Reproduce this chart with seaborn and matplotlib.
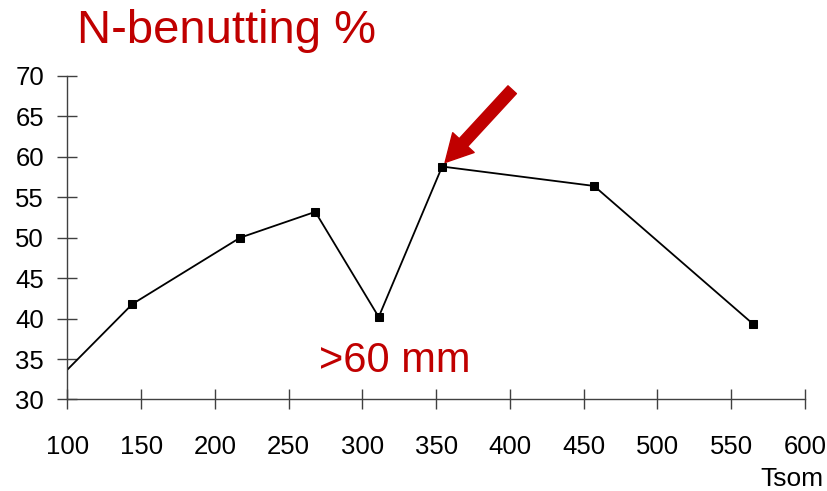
import matplotlib
matplotlib.use("Agg")
import matplotlib.pyplot as plt
import seaborn as sns
import pandas as pd

# Total precipitation (Tsom) and nitrogen utilisation (%)
tsom = [100, 144, 217, 268, 311, 354, 457, 565]
n_benutting = [33.7, 41.8, 50.0, 53.2, 40.2, 58.8, 56.4, 39.3]

x_ticks = [100, 150, 200, 250, 300, 350, 400, 450, 500, 550, 600]
y_ticks = [30, 35, 40, 45, 50, 55, 60, 65, 70]

title_text = "N-benutting %"
note_text = ">60 mm"
x_label = "Tsom"

dark_red = "#C00000"
axis_grey = "#404040"

sns.set_theme(style="white")
plt.rcParams["font.family"] = ["Liberation Sans", "DejaVu Sans"]

df = pd.DataFrame({"Tsom": tsom, "N": n_benutting})

fig = plt.figure(figsize=(8.28, 4.91), dpi=100)
ax = fig.add_axes([0.0815, 0.1864, 0.8907, 0.6589])

sns.lineplot(data=df, x="Tsom", y="N", ax=ax, color="black", linewidth=1.3,
             marker="s", markersize=6, markeredgecolor="black",
             markerfacecolor="black", markevery=list(range(1, len(tsom))))

ax.set_xlim(100, 600)
ax.set_ylim(30, 70)
ax.set_xticks(x_ticks)
ax.set_yticks(y_ticks)
ax.set_xlabel("")
ax.set_ylabel("")

for side in ("top", "right"):
    ax.spines[side].set_visible(False)
for side in ("left", "bottom"):
    ax.spines[side].set_color(axis_grey)
    ax.spines[side].set_linewidth(1.0)

ax.tick_params(axis="both", which="major", bottom=True, left=True,
               direction="inout", length=13.7, width=1.0,
               color=axis_grey, labelcolor="black", labelsize=18.5)
ax.tick_params(axis="x", pad=19)
ax.tick_params(axis="y", pad=10)

# Title and annotations
fig.text(0.093, 0.912, title_text, color=dark_red, fontsize=34,
         ha="left", va="baseline")
ax.text(270.5, 34.7, note_text, color=dark_red, fontsize=30,
        ha="left", va="center")
fig.text(0.995, 0.01, x_label, color="black", fontsize=19,
         ha="right", va="baseline")

# Arrow pointing at the peak
peak_i = n_benutting.index(max(n_benutting))
ax.annotate("", xy=(tsom[peak_i] + 2, n_benutting[peak_i] + 0.5),
            xytext=(401.5, 68.3),
            arrowprops=dict(arrowstyle="simple,head_length=1.3,head_width=1.4,tail_width=0.55",
                            color=dark_red, shrinkA=0, shrinkB=0, mutation_scale=15))

fig.savefig("out.png", dpi=100)
